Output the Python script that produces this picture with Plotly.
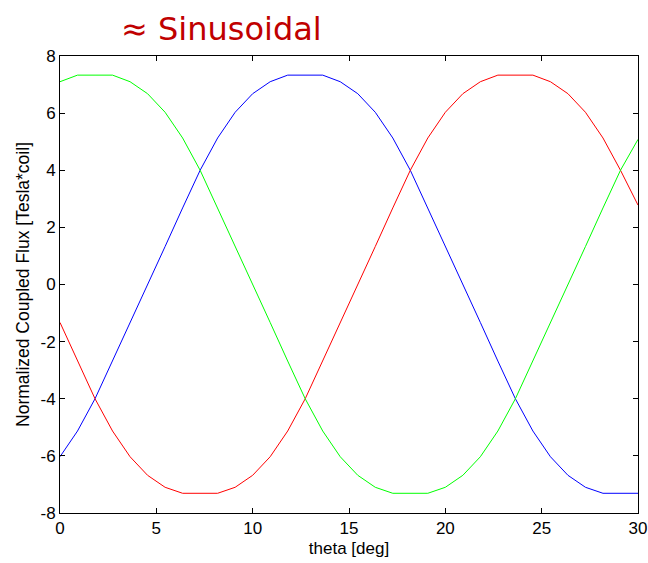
import plotly.graph_objects as go

theta = [0.0, 0.909, 1.818, 2.727, 3.636, 4.545, 5.455, 6.364, 7.273, 8.182,
         9.091, 10.0, 10.909, 11.818, 12.727, 13.636, 14.545, 15.455, 16.364,
         17.273, 18.182, 19.091, 20.0, 20.909, 21.818, 22.727, 23.636, 24.545,
         25.455, 26.364, 27.273, 28.182, 29.091, 30.0]

flux_blue = [-6.03, -5.13, -4.0, -2.68, -1.33, 0.0, 1.33, 2.68, 4.0, 5.13,
             6.03, 6.68, 7.1, 7.33, 7.33, 7.33, 7.1, 6.68, 6.03, 5.13,
             4.0, 2.68, 1.33, 0.0, -1.33, -2.68, -4.0, -5.13, -6.03, -6.68,
             -7.1, -7.31, -7.31, -7.31]

flux_red = [-1.33, -2.68, -4.0, -5.13, -6.03, -6.68, -7.1, -7.31, -7.31, -7.31,
            -7.1, -6.68, -6.03, -5.13, -4.0, -2.68, -1.33, 0.0, 1.33, 2.68,
            4.0, 5.13, 6.03, 6.68, 7.1, 7.33, 7.33, 7.33, 7.1, 6.68,
            6.03, 5.13, 4.0, 2.78]

flux_green = [7.1, 7.33, 7.33, 7.33, 7.1, 6.68, 6.03, 5.13, 4.0, 2.68,
              1.33, 0.0, -1.33, -2.68, -4.0, -5.13, -6.03, -6.68, -7.1, -7.31,
              -7.31, -7.31, -7.1, -6.68, -6.03, -5.13, -4.0, -2.68, -1.33, 0.0,
              1.33, 2.68, 4.0, 5.08]

x_ticks = [0, 5, 10, 15, 20, 25, 30]
y_ticks = [-8, -6, -4, -2, 0, 2, 4, 6, 8]

FONT = "Liberation Sans, Arial"

fig = go.Figure()
for ys, col in [(flux_blue, "#0000ff"), (flux_red, "#ff0000"), (flux_green, "#00ff00")]:
    fig.add_trace(go.Scatter(x=theta, y=ys, mode="lines",
                             line=dict(color=col, width=1), showlegend=False,
                             hoverinfo="skip"))

axis_common = dict(showline=True, linecolor="black", linewidth=1, mirror="ticks",
                   ticks="inside", ticklen=5, tickcolor="black", showgrid=False,
                   zeroline=False, automargin=False, ticklabeloverflow="allow",
                   tickfont=dict(family=FONT, size=17, color="black"))

fig.update_xaxes(range=[0, 30], tickvals=x_ticks, ticktext=[str(v) for v in x_ticks],
                 title=dict(text="theta [deg]", font=dict(family=FONT, size=17, color="black"), standoff=4),
                 **axis_common)
fig.update_yaxes(range=[-8, 8], tickvals=y_ticks, ticktext=[str(v) for v in y_ticks],
                 title=dict(text="Normalized Coupled Flux [Tesla*coil]", font=dict(family=FONT, size=17.5, color="black"), standoff=6),
                 **axis_common)

fig.add_annotation(text="≈ Sinusoidal", xref="paper", yref="paper", x=0.28, y=1.06,
                   xanchor="center", yanchor="middle", showarrow=False,
                   font=dict(family="DejaVu Sans", size=32, color="#c00000"))

fig.update_layout(width=648, height=563, plot_bgcolor="white", paper_bgcolor="white",
                  margin=dict(l=60, r=10, t=56, b=50))

fig.write_html("out.html", config={"displayModeBar": False},
               post_script="document.body.style.margin='0';document.body.style.overflow='hidden';")
